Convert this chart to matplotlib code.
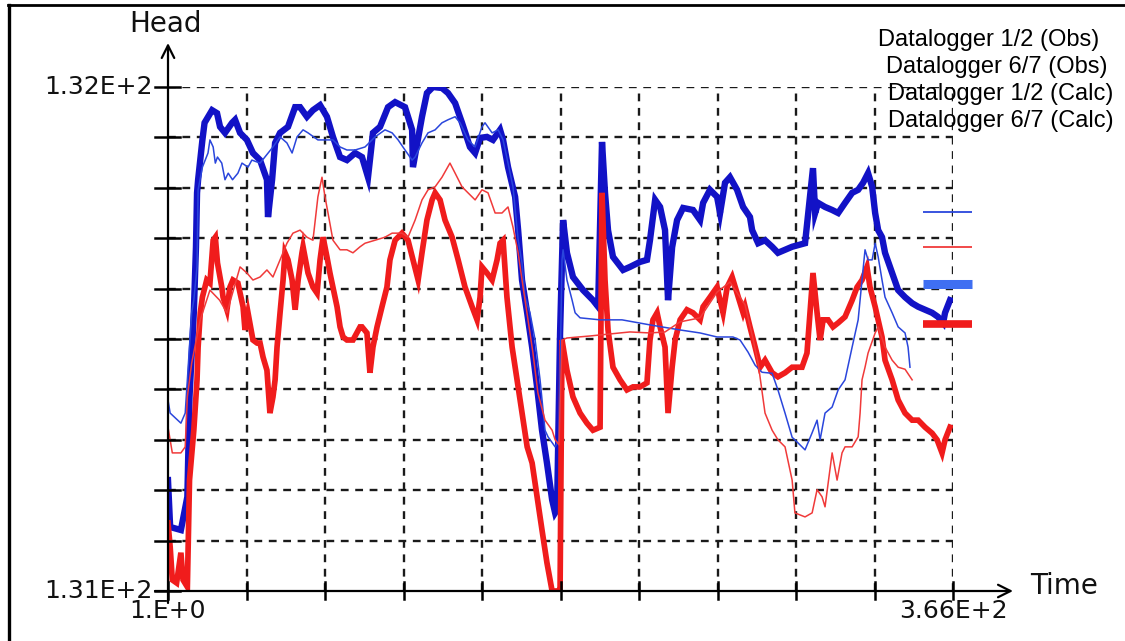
import matplotlib
matplotlib.use("Agg")
import matplotlib.pyplot as plt
from matplotlib.lines import Line2D
from matplotlib.transforms import blended_transform_factory

# ---------------- data ----------------
x_min, x_max = 1, 366
y_min, y_max = 131.0, 132.0
x_ticklabels = ["1.E+0", "3.66E+2"]
y_ticklabels = ["1.31E+2", "1.32E+2"]
x_label = "Time"
y_label = "Head"
n_xgrid = 10
n_ygrid = 10

series_names = ["Datalogger 1/2 (Obs)", "Datalogger 6/7 (Obs)",
                "Datalogger 1/2 (Calc)", "Datalogger 6/7 (Calc)"]

# Datalogger 1/2 (Calc) - thick blue
t_calc12 = [1, 2, 7, 10, 11, 13, 14, 14.5, 15, 17, 18, 21.5, 23.8, 25.2, 27.5, 30.8, 32.2, 34.5, 37.7,
            40.5, 43.8, 47, 47.5, 49.4, 50.8, 53.1, 56.8, 60.1, 62.4, 65.6, 68.4, 71.7, 74.9, 77.7, 81,
            84.2, 88, 91.2, 94, 96.3, 99.6, 103.3, 106.6, 111.2, 114.5, 114.9, 119.1, 121.4, 124.2,
            128.4, 131.2, 134.5, 137.7, 141.4, 143.8, 146.1, 149.3, 152.1, 155.4, 156.8, 159.1, 162.4,
            163.8, 165.6, 168, 170.3, 172.6, 174.9, 177.2, 179.6, 181, 181.9, 183.3, 184.7, 186.5, 189.3,
            194, 198.6, 201, 202.8, 204.2, 205.6, 207.9, 212.6, 215.8, 220.5, 223.7, 225.1, 227.5, 229.8,
            232.1, 233.5, 235.4, 237.7, 240.5, 245.1, 248.4, 249.8, 253, 256.3, 257.7, 260, 262.3, 265.6,
            268.4, 271.6, 272.6, 275.4, 278.6, 281.9, 284.6, 287.9, 291.2, 297.2, 299.5, 300.9, 301.9,
            303.3, 306.5, 309.8, 312.6, 315.8, 319.1, 321.9, 324.2, 326.5, 328.4, 329.8, 331.2, 333,
            334.4, 337.7, 340.5, 343.7, 347, 349.8, 353, 356.3, 359, 361.4, 362.3, 364.6]
h_calc12 = [131.220, 131.127, 131.121, 131.187, 131.385, 131.552, 131.682, 131.790, 131.816, 131.895,
            131.929, 131.954, 131.948, 131.921, 131.909, 131.929, 131.935, 131.909, 131.895, 131.869,
            131.855, 131.816, 131.742, 131.816, 131.889, 131.909, 131.921, 131.960, 131.960, 131.941,
            131.954, 131.964, 131.941, 131.901, 131.861, 131.855, 131.869, 131.861, 131.821, 131.909,
            131.921, 131.960, 131.970, 131.960, 131.915, 131.841, 131.941, 131.988, 132.000, 131.998,
            131.988, 131.968, 131.929, 131.881, 131.869, 131.899, 131.901, 131.895, 131.915, 131.895,
            131.841, 131.782, 131.716, 131.617, 131.552, 131.484, 131.405, 131.319, 131.254, 131.181,
            131.155, 131.161, 131.512, 131.736, 131.671, 131.623, 131.597, 131.577, 131.564, 131.891,
            131.790, 131.716, 131.663, 131.637, 131.643, 131.653, 131.657, 131.696, 131.776, 131.762,
            131.716, 131.577, 131.682, 131.736, 131.760, 131.756, 131.736, 131.770, 131.796, 131.782,
            131.750, 131.810, 131.821, 131.796, 131.762, 131.742, 131.716, 131.690, 131.696, 131.683,
            131.671, 131.677, 131.683, 131.690, 131.782, 131.839, 131.750, 131.770, 131.762, 131.756,
            131.750, 131.770, 131.790, 131.796, 131.810, 131.829, 131.802, 131.750, 131.716, 131.702,
            131.671, 131.631, 131.597, 131.583, 131.571, 131.564, 131.558, 131.552, 131.544, 131.532,
            131.552, 131.577]

# Datalogger 1/2 (Obs) - thin blue
t_obs12 = [1, 2, 7, 9, 10, 12, 13, 14.5, 15, 17, 19.6, 20.5, 22, 23, 24, 26, 27.5, 29, 31, 33.5, 35.4,
           38.2, 40, 43.8, 49.8, 53.1, 56.3, 58.7, 61, 63.8, 66.1, 70.7, 77.7, 81, 84.2, 88, 92.6, 97.3,
           101.9, 105.2, 108, 111.2, 114.5, 115.9, 119.1, 121.9, 125.2, 128.4, 131.2, 134.5, 136.8,
           140.5, 143.8, 147, 148.4, 151.7, 154.5, 156.8, 159.1, 161.4, 163.8, 165.6, 167, 169.3, 171.7,
           174, 176.3, 177.7, 181, 182.8, 184.2, 184.7, 186.5, 188.9, 190.3, 192.6, 201.9, 212.1, 225.1,
           239, 248.4, 256.3, 263.7, 267, 270.7, 274, 277.2, 281.9, 284.6, 287.9, 291.2, 293.9, 297.2,
           300.5, 302.8, 304.2, 306.5, 309.8, 312.6, 315.8, 319.1, 321.9, 323.7, 325.1, 326.5, 328.4,
           329.8, 331.2, 333, 334.4, 337.7, 340.5, 343.7, 345.1, 346]
h_obs12 = [131.379, 131.353, 131.333, 131.353, 131.419, 131.552, 131.577, 131.643, 131.796, 131.841,
           131.869, 131.895, 131.881, 131.849, 131.861, 131.849, 131.816, 131.829, 131.816, 131.829,
           131.849, 131.841, 131.855, 131.849, 131.881, 131.901, 131.889, 131.869, 131.901, 131.915,
           131.909, 131.895, 131.895, 131.881, 131.875, 131.875, 131.881, 131.901, 131.915, 131.909,
           131.895, 131.875, 131.855, 131.861, 131.889, 131.909, 131.915, 131.929, 131.935, 131.941,
           131.929, 131.895, 131.881, 131.921, 131.929, 131.909, 131.915, 131.895, 131.849, 131.802,
           131.697, 131.651, 131.584, 131.552, 131.498, 131.419, 131.319, 131.306, 131.286, 131.300,
           131.657, 131.677, 131.617, 131.577, 131.552, 131.542, 131.538, 131.538, 131.528, 131.518,
           131.512, 131.504, 131.504, 131.498, 131.474, 131.448, 131.434, 131.432, 131.399, 131.353,
           131.305, 131.294, 131.280, 131.314, 131.339, 131.300, 131.353, 131.365, 131.399, 131.419,
           131.484, 131.538, 131.617, 131.677, 131.657, 131.657, 131.690, 131.663, 131.617, 131.583,
           131.552, 131.524, 131.512, 131.484, 131.444]

# Datalogger 6/7 (Calc) - thick red
t_calc67 = [1, 2, 3, 5, 7, 8, 10, 11, 13, 14.5, 15, 16, 17, 19, 20.5, 22, 23, 24, 26, 26.6, 28.4, 29.8,
            31.2, 33.5, 34.5, 35.9, 36.8, 38.2, 40.5, 42.4, 43.8, 45.2, 47, 48.4, 49.8, 50.8, 51.7, 53.1,
            54.5, 55.4, 56.8, 58.7, 60.1, 61.5, 63.3, 63.8, 66.1, 68.4, 70.3, 71.7, 73.1, 74.9, 76.3,
            77.7, 79.6, 81, 82.4, 84.2, 87, 90.3, 91.2, 93.5, 94.9, 96.3, 98.2, 100.5, 102.8, 104.2,
            106.6, 109.8, 112.6, 114.9, 117.3, 119.1, 121.4, 123.8, 125.2, 127.5, 129.8, 133.1, 135.9,
            139.1, 142.4, 144.7, 146.1, 147, 149.3, 151.7, 154, 155.4, 156.8, 158.6, 161, 163.3, 165.6,
            168, 170.3, 172.6, 174.9, 177.2, 179.6, 181.9, 183.3, 184.2, 186.5, 189.3, 192.6, 195.8,
            198.6, 201.9, 202.8, 204.2, 205.6, 207.9, 211.2, 214.4, 217.2, 220.5, 223.7, 225.1, 226.5,
            228.4, 229.8, 232.1, 233.5, 235.4, 236.8, 239.1, 242.3, 245.1, 248.4, 249.8, 253, 256.3,
            257.7, 259.1, 261, 263.3, 265.6, 268.4, 269.3, 271.6, 274, 276.3, 278.6, 281.9, 284.6,
            287.9, 291.2, 295.8, 298.1, 299.5, 300.9, 302.8, 304.2, 305.6, 307.9, 310.2, 312.6, 315.8,
            319.1, 321.4, 323.7, 326, 327.4, 329.8, 331.2, 333, 334.4, 337.7, 340.5, 343.7, 347, 349.8,
            353, 356.3, 358.6, 360.9, 362.3, 364.6]
h_calc67 = [131.135, 131.088, 131.022, 131.016, 131.076, 131.022, 131.008, 131.220, 131.319, 131.419,
            131.484, 131.552, 131.583, 131.617, 131.611, 131.696, 131.702, 131.651, 131.603, 131.583,
            131.558, 131.603, 131.617, 131.611, 131.591, 131.564, 131.518, 131.552, 131.498, 131.492,
            131.492, 131.464, 131.438, 131.353, 131.385, 131.419, 131.484, 131.552, 131.617, 131.671,
            131.657, 131.617, 131.558, 131.617, 131.671, 131.683, 131.631, 131.603, 131.591, 131.657,
            131.702, 131.663, 131.631, 131.603, 131.564, 131.524, 131.504, 131.498, 131.498, 131.524,
            131.524, 131.512, 131.433, 131.484, 131.524, 131.564, 131.603, 131.657, 131.696, 131.710,
            131.696, 131.657, 131.617, 131.671, 131.736, 131.776, 131.790, 131.776, 131.736, 131.702,
            131.657, 131.603, 131.564, 131.538, 131.583, 131.643, 131.631, 131.617, 131.657, 131.690,
            131.696, 131.583, 131.484, 131.419, 131.353, 131.286, 131.254, 131.187, 131.121, 131.056,
            131.000, 131.000, 131.002, 131.498, 131.438, 131.385, 131.353, 131.333, 131.319, 131.325,
            131.790, 131.617, 131.518, 131.444, 131.419, 131.399, 131.405, 131.405, 131.413, 131.498,
            131.538, 131.552, 131.524, 131.484, 131.353, 131.444, 131.498, 131.538, 131.558, 131.552,
            131.538, 131.564, 131.583, 131.603, 131.577, 131.552, 131.603, 131.623, 131.591, 131.552,
            131.564, 131.524, 131.484, 131.444, 131.458, 131.433, 131.425, 131.433, 131.444, 131.444,
            131.472, 131.552, 131.631, 131.552, 131.498, 131.538, 131.538, 131.524, 131.532, 131.544,
            131.577, 131.603, 131.617, 131.643, 131.603, 131.564, 131.538, 131.504, 131.458, 131.419,
            131.379, 131.353, 131.339, 131.339, 131.325, 131.313, 131.300, 131.274, 131.300, 131.325]

# Datalogger 6/7 (Obs) - thin red
t_obs67 = [1, 2, 3, 7, 9, 10, 12, 16, 20.5, 25, 28.4, 34.5, 37.7, 40.5, 43.8, 47, 49.8, 53.1, 56.3,
           59.1, 62.4, 65.6, 68.4, 70.7, 72.6, 74, 75.4, 77.7, 81, 84.2, 87, 90.3, 92.6, 97.3, 101.9,
           105.2, 109.8, 112.6, 115.9, 119.1, 121.9, 125.2, 128.4, 132.1, 134.5, 137.7, 140.5, 143.8,
           147, 149.8, 153.1, 156.3, 159.1, 161.4, 163.8, 166.1, 168.4, 170.7, 173, 176.3, 179.6, 181,
           182.8, 184.2, 186.5, 197.2, 206.5, 215.8, 225.1, 232.1, 239.1, 248.4, 256.3, 262.3, 269.3,
           272.6, 275.4, 278.6, 281.9, 284.6, 287.9, 291.2, 292.5, 297.2, 300.5, 302.8, 305.1, 306.5,
           309.8, 312.1, 314.4, 315.8, 319.1, 321.9, 322.8, 323.7, 325.1, 326.5, 329.8, 331.2, 334.4,
           337.7, 340.5, 343.7, 347]
h_obs67 = [131.325, 131.300, 131.274, 131.274, 131.286, 131.385, 131.452, 131.538, 131.597, 131.577,
           131.552, 131.643, 131.631, 131.617, 131.623, 131.637, 131.623, 131.657, 131.690, 131.710,
           131.716, 131.702, 131.696, 131.782, 131.821, 131.782, 131.750, 131.696, 131.677, 131.677,
           131.671, 131.683, 131.690, 131.696, 131.702, 131.710, 131.710, 131.702, 131.736, 131.776,
           131.796, 131.802, 131.821, 131.849, 131.829, 131.802, 131.790, 131.776, 131.796, 131.790,
           131.750, 131.750, 131.762, 131.722, 131.671, 131.603, 131.538, 131.472, 131.393, 131.339,
           131.319, 131.300, 131.290, 131.498, 131.502, 131.506, 131.510, 131.514, 131.512, 131.514,
           131.534, 131.542, 131.593, 131.613, 131.568, 131.508, 131.452, 131.353, 131.319, 131.300,
           131.286, 131.220, 131.155, 131.147, 131.155, 131.201, 131.187, 131.167, 131.274, 131.220,
           131.274, 131.286, 131.286, 131.306, 131.353, 131.419, 131.444, 131.472, 131.512, 131.524,
           131.484, 131.458, 131.444, 131.440, 131.419]

# ---------------- style ----------------
W, H = 1125, 641
c_thick_blue = "#1212c6"
c_thin_blue = "#2a46dc"
c_red = "#f01c1c"
c_thin_red = "#f03a3a"
c_leg_thick_blue = "#3f6ff2"

fig = plt.figure(figsize=(W / 100, H / 100), dpi=100)
fig.patch.set_facecolor("white")

def fx(px):
    return px / W

def fy(py):
    return 1 - py / H

ax_l, ax_r, ax_t, ax_b = 168, 953, 87, 591
ax = fig.add_axes([fx(ax_l), fy(ax_b), (ax_r - ax_l) / W, (ax_b - ax_t) / H])
ax.set_xlim(x_min, x_max)
ax.set_ylim(y_min, y_max)
ax.set_axis_off()

# dashed grid
xstep = (x_max - x_min) / n_xgrid
ystep = (y_max - y_min) / n_ygrid
xg = [x_min + i * xstep for i in range(1, n_xgrid + 1)]
yg = [y_min + i * ystep for i in range(1, n_ygrid + 1)]
for v in xg:
    ax.plot([v, v], [y_min, y_max], color="#1a1a1a", lw=1.7, ls=(0, (3.3, 2.8)), zorder=1)
for v in yg:
    ax.plot([x_min, x_max], [v, v], color="#1a1a1a", lw=1.7, ls=(0, (3.3, 2.8)), zorder=1)

# series (thick first, thin on top)
ax.plot(t_calc12, h_calc12, color=c_thick_blue, lw=4.6, zorder=3, solid_joinstyle="miter")
ax.plot(t_calc67, h_calc67, color=c_red, lw=4.1, zorder=3, solid_joinstyle="miter")
ax.plot(t_obs12, h_obs12, color=c_thin_blue, lw=1.1, zorder=4)
ax.plot(t_obs67, h_obs67, color=c_thin_red, lw=1.1, zorder=4)

# axes with arrows
axis_kw = dict(arrowstyle="->,head_length=0.9,head_width=0.45", color="black", lw=1.6,
               shrinkA=0, shrinkB=0)
ax.annotate("", xy=(fx(1013), fy(ax_b)), xycoords="figure fraction",
            xytext=(fx(155), fy(ax_b)), textcoords="figure fraction", arrowprops=axis_kw, zorder=5)
ax.annotate("", xy=(fx(ax_l), fy(43)), xycoords="figure fraction",
            xytext=(fx(ax_l), fy(603)), textcoords="figure fraction", arrowprops=axis_kw, zorder=5)

# tick marks
tr_x = blended_transform_factory(ax.transData, ax.transAxes)
tr_y = blended_transform_factory(ax.transAxes, ax.transData)
for v in [x_min] + xg:
    ax.plot([v, v], [-0.016, 0.018], transform=tr_x, color="black", lw=1.8, clip_on=False, zorder=5)
for v in [y_min] + yg:
    ax.plot([-0.017, 0.015], [v, v], transform=tr_y, color="black", lw=1.8, clip_on=False, zorder=5)

# tick labels
tick_font = dict(family="DejaVu Sans", fontsize=18, color="#111111")
title_font = dict(family="DejaVu Sans", fontsize=20, color="#111111")
ax.annotate(x_ticklabels[0], xy=(x_min, y_min), xytext=(0, -6), textcoords="offset points",
            ha="center", va="top", annotation_clip=False, **tick_font)
ax.annotate(x_ticklabels[1], xy=(x_max, y_min), xytext=(0, -6), textcoords="offset points",
            ha="center", va="top", annotation_clip=False, **tick_font)
ax.annotate(y_ticklabels[0], xy=(x_min, y_min), xytext=(-11, 0), textcoords="offset points",
            ha="right", va="center", annotation_clip=False, **tick_font)
ax.annotate(y_ticklabels[1], xy=(x_min, y_max), xytext=(-11, 0), textcoords="offset points",
            ha="right", va="center", annotation_clip=False, **tick_font)

# axis titles
fig.text(fx(165), fy(24), y_label, ha="center", va="center", **title_font)
fig.text(fx(1030), fy(586), x_label, ha="left", va="center", **title_font)

# legend (texts and sample lines as placed in the original)
leg_font = dict(family="Liberation Sans", fontsize=17, color="black")
leg_x = [878, 886, 888, 888]
leg_y = [40, 67, 94, 121]
for name, lx, ly in zip(series_names, leg_x, leg_y):
    fig.text(fx(lx), fy(ly), name, ha="left", va="center", **leg_font)

leg_styles = [(c_thin_blue, 1.3, 212), (c_thin_red, 1.3, 247),
              (c_leg_thick_blue, 6.5, 284), (c_red, 5.5, 324)]
for col, lw, ly in leg_styles:
    fig.add_artist(Line2D([fx(923), fx(972)], [fy(ly), fy(ly)], color=col, lw=lw,
                          solid_capstyle="butt", transform=fig.transFigure))

# outer frame (left and top edges)
fig.add_artist(Line2D([fx(9), fx(9)], [fy(5), fy(641)], color="black", lw=2.4, transform=fig.transFigure))
fig.add_artist(Line2D([fx(8), fx(1125)], [fy(5), fy(5)], color="black", lw=2.0, transform=fig.transFigure))

fig.savefig("out.png", dpi=100, facecolor="white")
